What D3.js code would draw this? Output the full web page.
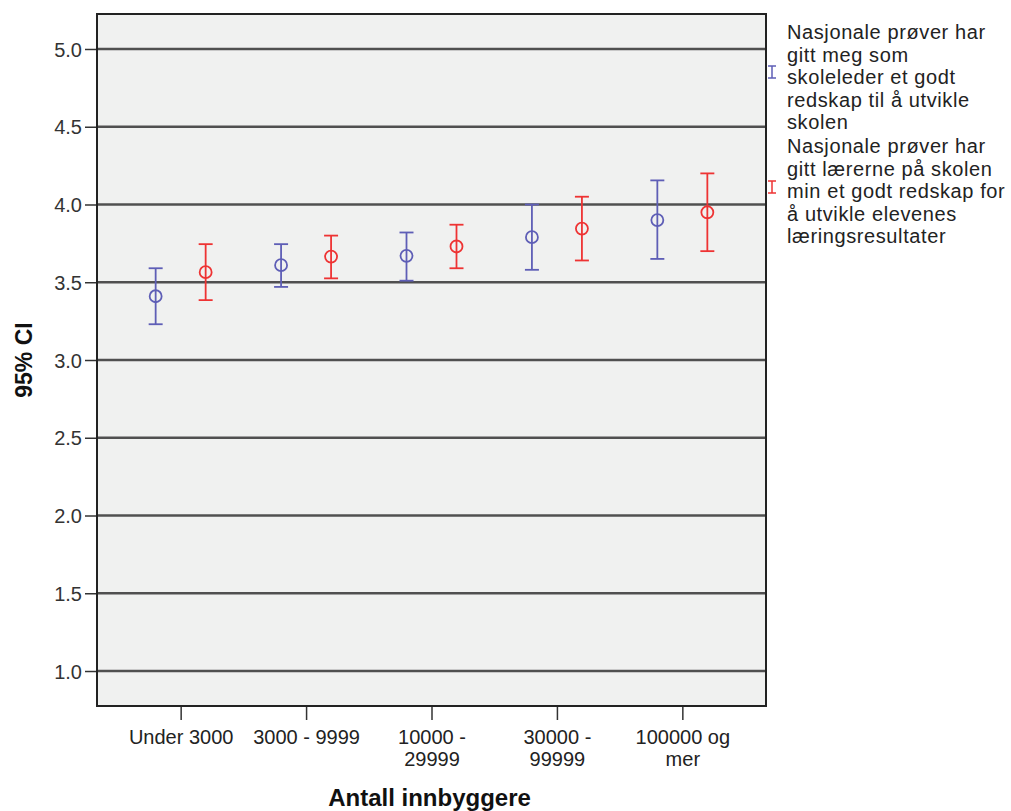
<!DOCTYPE html>
<html><head><meta charset="utf-8">
<script src="https://cdn.jsdelivr.net/npm/d3@7"></script>
<style>body{margin:0;background:#fff;} text{font-family:"Liberation Sans",Arial,sans-serif;}</style>
</head><body>
<svg id="c" width="1011" height="811"></svg>
<script>
const categories = ["Under 3000", "3000 - 9999", "10000 - 29999", "30000 - 99999", "100000 og mer"];
const categoryLines = [["Under 3000"], ["3000 - 9999"], ["10000 -", "29999"], ["30000 -", "99999"], ["100000 og", "mer"]];
const seriesNames = [
  "Nasjonale prøver har gitt meg som skoleleder et godt redskap til å utvikle skolen",
  "Nasjonale prøver har gitt lærerne på skolen min et godt redskap for å utvikle elevenes læringsresultater"
];
const legendLines = [
  ["Nasjonale prøver har", "gitt meg som", "skoleleder et godt", "redskap til å utvikle", "skolen"],
  ["Nasjonale prøver har", "gitt lærerne på skolen", "min et godt redskap for", "å utvikle elevenes", "læringsresultater"]
];
const leaderMean = [3.41, 3.61, 3.67, 3.79, 3.90];
const leaderLow  = [3.23, 3.47, 3.51, 3.58, 3.65];
const leaderHigh = [3.59, 3.745, 3.82, 4.00, 4.155];
const teacherMean = [3.565, 3.665, 3.73, 3.845, 3.95];
const teacherLow  = [3.385, 3.525, 3.59, 3.64, 3.70];
const teacherHigh = [3.745, 3.80, 3.87, 4.05, 4.20];
const yTicks = [1.0, 1.5, 2.0, 2.5, 3.0, 3.5, 4.0, 4.5, 5.0];
const colors = ["#5e5eb6", "#ee3333"];

const svg = d3.select("#c");
const L = 97, R = 766, T = 14, B = 706;
const y = d3.scaleLinear().domain([0.775, 5.225]).range([B, T]);
const x = d3.scalePoint().domain(categories).range([L, R]).padding(0.667);
const off = d3.scalePoint().domain([0, 1]).range([-25, 25]);

svg.append("rect").attr("x", L).attr("y", T).attr("width", R - L).attr("height", B - T).attr("fill", "#f0f1f0");

// grid
svg.append("g").selectAll("line").data(yTicks).join("line")
  .attr("x1", L).attr("x2", R).attr("y1", d => y(d)).attr("y2", d => y(d))
  .attr("stroke", "#505050").attr("stroke-width", 2.5);

// y axis
const ya = svg.append("g").attr("transform", `translate(${L},0)`)
  .call(d3.axisLeft(y).tickValues(yTicks).tickFormat(d3.format(".1f")).tickSize(12).tickSizeOuter(0));
ya.select(".domain").remove();
ya.selectAll(".tick line").attr("stroke", "#333").attr("stroke-width", 1.5);
ya.selectAll(".tick text").attr("font-size", 20).attr("fill", "#333").attr("x", -15).attr("dy", "0.36em")
  .attr("font-family", "Liberation Sans, Arial, sans-serif");

// x axis
const xa = svg.append("g").attr("transform", `translate(0,${B})`)
  .call(d3.axisBottom(x).tickSize(14).tickSizeOuter(0).tickFormat(""));
xa.select(".domain").remove();
xa.selectAll(".tick line").attr("stroke", "#333").attr("stroke-width", 1.5);
xa.selectAll(".tick").each(function(d, i) {
  const t = d3.select(this).append("text").attr("fill", "#222").attr("font-size", 20)
    .attr("text-anchor", "middle").attr("y", 38).attr("font-family", "Liberation Sans, Arial, sans-serif");
  categoryLines[i].forEach((s, j) => t.append("tspan").attr("x", 0).attr("dy", j === 0 ? 0 : 22).text(s));
});

// frame
svg.append("rect").attr("x", L).attr("y", T).attr("width", R - L).attr("height", B - T)
  .attr("fill", "none").attr("stroke", "#222").attr("stroke-width", 2);

// error bars
const series = [
  {mean: leaderMean, low: leaderLow, high: leaderHigh},
  {mean: teacherMean, low: teacherLow, high: teacherHigh}
];
series.forEach((s, k) => {
  const g = svg.append("g").attr("stroke", colors[k]).attr("fill", "none").attr("stroke-width", 1.8);
  categories.forEach((c, i) => {
    const cx = x(c) + off(k);
    g.append("line").attr("x1", cx).attr("x2", cx).attr("y1", y(s.low[i])).attr("y2", y(s.high[i]) );
    g.append("line").attr("x1", cx - 7).attr("x2", cx + 7).attr("y1", y(s.low[i])).attr("y2", y(s.low[i]));
    g.append("line").attr("x1", cx - 7).attr("x2", cx + 7).attr("y1", y(s.high[i])).attr("y2", y(s.high[i]));
    g.append("circle").attr("cx", cx).attr("cy", y(s.mean[i])).attr("r", 6);
  });
});

// axis titles
svg.append("text").attr("x", (L + R) / 2 - 2).attr("y", 806).attr("text-anchor", "middle")
  .attr("font-size", 24).attr("font-weight", "bold").attr("fill", "#111").text("Antall innbyggere");
svg.append("text").attr("transform", `translate(32,360) rotate(-90)`).attr("text-anchor", "middle")
  .attr("font-size", 23).attr("font-weight", "bold").attr("fill", "#111").text("95% CI");

// legend
const lg = svg.append("g");
const blocks = [{top: 39, mark: 72}, {top: 153, mark: 187}];
legendLines.forEach((lines, k) => {
  const b = blocks[k];
  const t = lg.append("text").attr("x", 787).attr("y", b.top).attr("font-size", 20).attr("fill", "#222")
    .attr("letter-spacing", 0.6);
  lines.forEach((s, j) => t.append("tspan").attr("x", 787).attr("dy", j === 0 ? 0 : 22.5).text(s));
  const m = lg.append("g").attr("stroke", colors[k]).attr("stroke-width", 1.5);
  m.append("line").attr("x1", 772).attr("x2", 772).attr("y1", b.mark - 6).attr("y2", b.mark + 6);
  m.append("line").attr("x1", 768).attr("x2", 776).attr("y1", b.mark - 6).attr("y2", b.mark - 6);
  m.append("line").attr("x1", 768).attr("x2", 776).attr("y1", b.mark + 6).attr("y2", b.mark + 6);
});
</script>
</body></html>
